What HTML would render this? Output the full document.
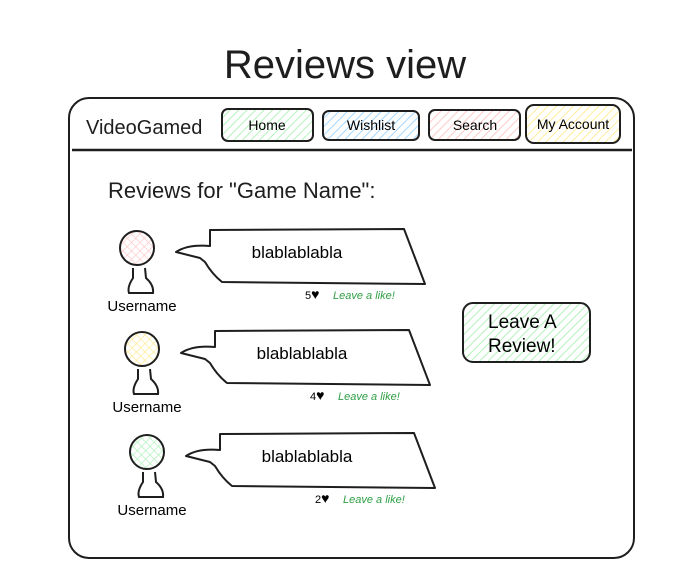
<!DOCTYPE html>
<html><head><meta charset="utf-8"><style>
html,body{margin:0;padding:0;background:#fff;}
svg{display:block;font-family:"Liberation Sans",sans-serif;}
</style></head><body>
<svg width="697" height="587" viewBox="0 0 697 587">
<defs>
<pattern id="hg" width="6" height="6" patternUnits="userSpaceOnUse" patternTransform="rotate(45)"><rect width="6" height="6" fill="#fff"/><line x1="0" y1="0" x2="0" y2="6" stroke="#b2f2bb" stroke-width="2"/></pattern>
<pattern id="hb" width="6" height="6" patternUnits="userSpaceOnUse" patternTransform="rotate(45)"><rect width="6" height="6" fill="#fff"/><line x1="0" y1="0" x2="0" y2="6" stroke="#a5d8ff" stroke-width="2"/></pattern>
<pattern id="hr" width="6" height="6" patternUnits="userSpaceOnUse" patternTransform="rotate(45)"><rect width="6" height="6" fill="#fff"/><line x1="0" y1="0" x2="0" y2="6" stroke="#ffc9c9" stroke-width="2"/></pattern>
<pattern id="hy" width="6" height="6" patternUnits="userSpaceOnUse" patternTransform="rotate(45)"><rect width="6" height="6" fill="#fff"/><line x1="0" y1="0" x2="0" y2="6" stroke="#ffec99" stroke-width="2"/></pattern>
<pattern id="xr" width="6" height="6" patternUnits="userSpaceOnUse" patternTransform="rotate(45)"><rect width="6" height="6" fill="#fff"/><path d="M0 0V6M0 0H6" stroke="#ffc9c9" stroke-width="1.5"/></pattern>
<pattern id="xy" width="6" height="6" patternUnits="userSpaceOnUse" patternTransform="rotate(45)"><rect width="6" height="6" fill="#fff"/><path d="M0 0V6M0 0H6" stroke="#ffec99" stroke-width="1.5"/></pattern>
<pattern id="xg" width="6" height="6" patternUnits="userSpaceOnUse" patternTransform="rotate(45)"><rect width="6" height="6" fill="#fff"/><path d="M0 0V6M0 0H6" stroke="#b2f2bb" stroke-width="1.5"/></pattern>
<g id="bubble"><path d="M210,230 L404,229 L425,284 L222,282 Q212,274 205,262 L200,258 L176,252 Q188,244 210,246 Z" fill="#fff" stroke="#1e1e1e" stroke-width="2" stroke-linejoin="round"/></g>
<g id="body"><path d="M133,268 L133,278 Q127,287 129,293 L153,293 Q154,285 146,278 L145,268" fill="#fff" stroke="#1e1e1e" stroke-width="2"/></g>
</defs>
<text x="345" y="78" font-size="40" text-anchor="middle" fill="#1e1e1e">Reviews view</text>
<rect x="69" y="98" width="565" height="460" rx="20" fill="#fff" stroke="#1e1e1e" stroke-width="2"/>
<line x1="72" y1="150" x2="632" y2="150" stroke="#1e1e1e" stroke-width="2.5"/>
<text x="86" y="134" font-size="20" fill="#1e1e1e">VideoGamed</text>
<rect x="222" y="109" width="91" height="32" rx="6" fill="url(#hg)" stroke="#1e1e1e" stroke-width="2"/>
<text x="267" y="130" font-size="14" text-anchor="middle">Home</text>
<rect x="323" y="111" width="96" height="29" rx="6" fill="url(#hb)" stroke="#1e1e1e" stroke-width="2"/>
<text x="371" y="130" font-size="14" text-anchor="middle">Wishlist</text>
<rect x="429" y="110" width="91" height="30" rx="6" fill="url(#hr)" stroke="#1e1e1e" stroke-width="2"/>
<text x="475" y="130" font-size="14" text-anchor="middle">Search</text>
<rect x="526" y="105" width="94" height="38" rx="8" fill="url(#hy)" stroke="#1e1e1e" stroke-width="2"/>
<text x="573" y="129" font-size="14" text-anchor="middle">My Account</text>
<text x="108" y="198" font-size="22" fill="#1e1e1e">Reviews for "Game Name":</text>

<circle cx="137" cy="248" r="17" fill="url(#xr)" stroke="#1e1e1e" stroke-width="2"/>
<use href="#body"/>
<text x="142" y="311" font-size="15" text-anchor="middle">Username</text>
<use href="#bubble"/>
<text x="297" y="258" font-size="17" text-anchor="middle">blablablabla</text>
<text x="305" y="299" font-size="11">5<tspan font-size="14">♥</tspan></text>
<text x="333" y="299" font-size="11" fill="#2f9e44" font-style="italic">Leave a like!</text>

<g transform="translate(5,101)">
<circle cx="137" cy="248" r="17" fill="url(#xy)" stroke="#1e1e1e" stroke-width="2"/>
<use href="#body"/>
<text x="142" y="311" font-size="15" text-anchor="middle">Username</text>
<use href="#bubble"/>
<text x="297" y="258" font-size="17" text-anchor="middle">blablablabla</text>
<text x="305" y="299" font-size="11">4<tspan font-size="14">♥</tspan></text>
<text x="333" y="299" font-size="11" fill="#2f9e44" font-style="italic">Leave a like!</text>
</g>
<g transform="translate(10,204)">
<circle cx="137" cy="248" r="17" fill="url(#xg)" stroke="#1e1e1e" stroke-width="2"/>
<use href="#body"/>
<text x="142" y="311" font-size="15" text-anchor="middle">Username</text>
<use href="#bubble"/>
<text x="297" y="258" font-size="17" text-anchor="middle">blablablabla</text>
<text x="305" y="299" font-size="11">2<tspan font-size="14">♥</tspan></text>
<text x="333" y="299" font-size="11" fill="#2f9e44" font-style="italic">Leave a like!</text>
</g>

<rect x="463" y="303" width="127" height="59" rx="10" fill="url(#hg)" stroke="#1e1e1e" stroke-width="2"/>
<text x="488" y="328" font-size="19">Leave A</text>
<text x="488" y="352" font-size="19">Review!</text>
</svg>
</body></html>
